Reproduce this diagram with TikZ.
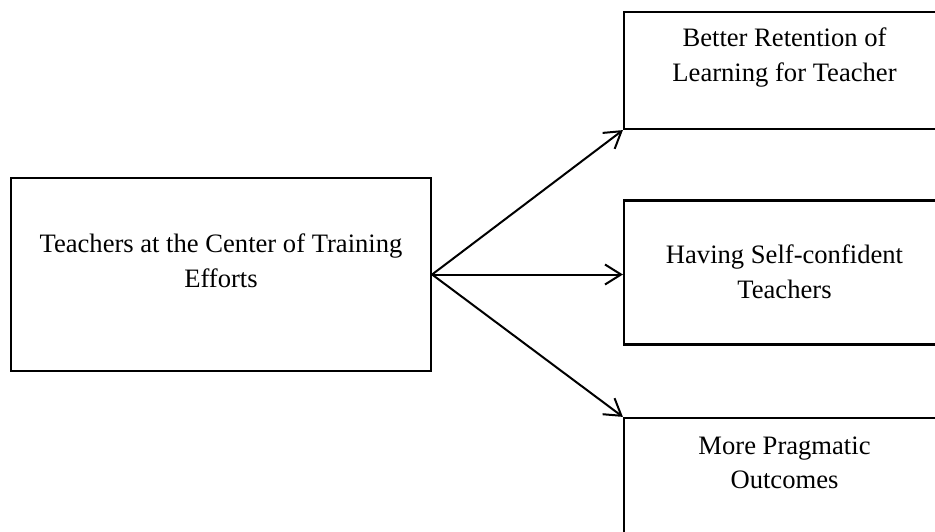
\documentclass[tikz,border=0pt]{standalone}
\usepackage{fontspec}
\setmainfont{Liberation Serif}
\usetikzlibrary{arrows.meta}
\begin{document}
\begin{tikzpicture}[x=1pt,y=-1pt,
  box/.style={draw=black, line width=2.2pt, rectangle, inner sep=0pt},
  txt/.style={anchor=base, inner sep=0pt, font=\fontsize{26.6}{35}\selectfont},
  conn/.style={line width=2pt, -{Straight Barb[length=16pt,width=20pt,line width=2pt]}}]
\clip (0,0) rectangle (935,532);
\fill[white] (0,0) rectangle (935,532);
% boxes
\node[box, minimum width=420pt, minimum height=193pt] (src) at (221,274.5) {};
\node[box, minimum width=321pt, minimum height=117pt] (b1) at (784.5,70.5) {};
\node[box, minimum width=321pt, minimum height=144pt] (b2) at (784.5,272.5) {};
\node[box, minimum width=321pt, minimum height=130pt] (b3) at (784.5,483) {};
% texts
\node[txt] (s1) at (221,252) {Teachers at the Center of Training};
\node[txt] (s2) at (221,287) {Efforts};
\node[txt] (t1a) at (784.5,47) {Better Retention of};
\node[txt] (t1b) at (784.5,82) {Learning for Teacher};
\node[txt] (t2a) at (784.5,263) {Having Self-confident};
\node[txt] (t2b) at (784.5,298) {Teachers};
\node[txt] (t3a) at (784.5,454) {More Pragmatic};
\node[txt] (t3b) at (784.5,488) {Outcomes};
% connectors
\draw[conn] (src.east) -- (b1.south west);
\draw[conn] (src.east) -- (src.east -| b2.west);
\draw[conn] (src.east) -- (b3.north west);
\end{tikzpicture}
\end{document}
